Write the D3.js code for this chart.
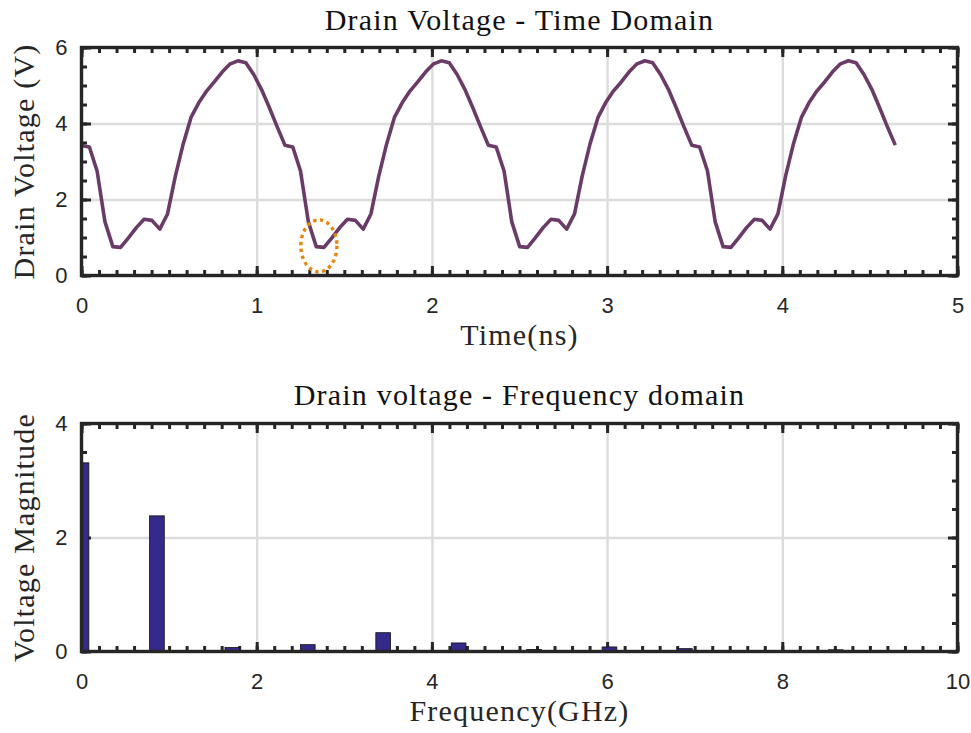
<!DOCTYPE html>
<html><head><meta charset="utf-8">
<script src="https://cdn.jsdelivr.net/npm/d3@7/dist/d3.min.js"></script>
<style>body{margin:0;background:#fff}svg{display:block}</style>
</head><body><svg id="chart" width="971" height="733"></svg>
<script>
// ---------- data ----------
const timeNs = [0,0.045,0.089,0.134,0.179,0.223,0.268,0.313,0.357,0.402,0.447,0.491,0.536,0.581,0.625,0.670,0.715,0.759,0.804,0.849,0.893,0.938,0.983,1.027,1.072,1.117,
1.161,1.206,1.250,1.295,1.340,1.384,1.429,1.474,1.518,1.563,1.608,1.652,1.697,1.742,1.786,1.831,1.876,1.920,1.965,2.010,2.054,2.099,2.144,2.188,2.233,2.278,
2.322,2.367,2.412,2.456,2.501,2.546,2.590,2.635,2.680,2.724,2.769,2.814,2.858,2.903,2.948,2.992,3.037,3.082,3.126,3.171,3.216,3.260,3.305,3.350,3.394,3.439,
3.483,3.528,3.573,3.617,3.662,3.707,3.751,3.796,3.841,3.885,3.930,3.975,4.019,4.064,4.109,4.153,4.198,4.243,4.287,4.332,4.377,4.421,4.466,4.511,4.555,4.600,4.645];
const drainV = [3.42,3.38,2.75,1.41,0.76,0.74,0.99,1.26,1.48,1.45,1.22,1.62,2.62,3.47,4.16,4.55,4.86,5.10,5.36,5.57,5.65,5.60,5.29,4.90,4.42,3.91,
3.43,3.38,2.75,1.41,0.76,0.74,0.99,1.26,1.48,1.45,1.22,1.62,2.62,3.47,4.16,4.55,4.86,5.10,5.36,5.57,5.65,5.60,5.29,4.90,4.42,3.91,
3.43,3.38,2.75,1.41,0.76,0.74,0.99,1.26,1.48,1.45,1.22,1.62,2.62,3.47,4.16,4.55,4.86,5.10,5.36,5.57,5.65,5.60,5.29,4.90,4.42,3.91,
3.43,3.38,2.75,1.41,0.76,0.74,0.99,1.26,1.48,1.45,1.22,1.62,2.62,3.47,4.16,4.55,4.86,5.10,5.36,5.57,5.65,5.60,5.29,4.90,4.42,3.91,
3.43];
const freqGHz = [0,0.861,1.722,2.583,3.444,4.305,5.166,6.027,6.888,7.749,8.610,9.471];
const magnitude = [3.31,2.38,0.07,0.12,0.33,0.15,0.035,0.08,0.05,0.01,0.03,0.01];
const barWidthGHz = 0.168;
const timeTicks = [0,1,2,3,4,5];
const voltTicks = [0,2,4,6];
const freqTicks = [0,2,4,6,8,10];
const magTicks = [0,2,4];
const markT = [1.355];      // highlighted minimum (ns)
const markV = [0.78];       // (V)
const markRT = [0.103];     // ellipse half-width (ns)
const markRV = [0.684];     // ellipse half-height (V)

// ---------- layout ----------
const svg = d3.select("#chart");
const L = 81.5, R = 957.5;
const serif = "'Liberation Serif','Times New Roman',serif";
const sans = "'Liberation Sans',Arial,Helvetica,sans-serif";
const frameColor = "#262626";

function panel(cfg) {
  const x = d3.scaleLinear().domain(cfg.xDomain).range([L, R]);
  const y = d3.scaleLinear().domain(cfg.yDomain).range([cfg.bottom, cfg.top]);
  const g = svg.append("g");
  const W = R - L, H = cfg.bottom - cfg.top;

  const gridX = g.append("g").attr("transform", `translate(0,${cfg.bottom})`)
    .call(d3.axisBottom(x).tickValues(cfg.xTicks.slice(1, -1)).tickSize(-H).tickFormat(""));
  const gridY = g.append("g").attr("transform", `translate(${L},0)`)
    .call(d3.axisLeft(y).tickValues(cfg.yTicks.slice(1, -1)).tickSize(-W).tickFormat(""));
  [gridX, gridY].forEach(a => {
    a.select(".domain").remove();
    a.selectAll("line").attr("stroke", "#dcdcdc").attr("stroke-width", 2.4);
  });

  const xm = x.ticks(cfg.xMinor), ym = y.ticks(cfg.yMinor);
  const axes = [
    g.append("g").attr("transform", `translate(0,${cfg.bottom})`).call(d3.axisBottom(x).tickValues(xm).tickSize(-5.5).tickFormat("")),
    g.append("g").attr("transform", `translate(0,${cfg.top})`).call(d3.axisTop(x).tickValues(xm).tickSize(-5.5).tickFormat("")),
    g.append("g").attr("transform", `translate(${L},0)`).call(d3.axisLeft(y).tickValues(ym).tickSize(-5.5).tickFormat("")),
    g.append("g").attr("transform", `translate(${R},0)`).call(d3.axisRight(y).tickValues(ym).tickSize(-5.5).tickFormat("")),
    g.append("g").attr("transform", `translate(0,${cfg.top})`).call(d3.axisTop(x).tickValues(cfg.xTicks).tickSize(-9.5).tickFormat("")),
    g.append("g").attr("transform", `translate(${R},0)`).call(d3.axisRight(y).tickValues(cfg.yTicks).tickSize(-9.5).tickFormat(""))
  ];
  const xAxis = g.append("g").attr("transform", `translate(0,${cfg.bottom})`)
    .call(d3.axisBottom(x).tickValues(cfg.xTicks).tickSize(-9.5).tickPadding(22).tickFormat(d3.format("d")));
  const yAxis = g.append("g").attr("transform", `translate(${L},0)`)
    .call(d3.axisLeft(y).tickValues(cfg.yTicks).tickSize(-9.5).tickPadding(14).tickFormat(d3.format("d")));
  axes.push(xAxis, yAxis);
  axes.forEach(a => {
    a.select(".domain").remove();
    a.selectAll("line").attr("stroke", frameColor).attr("stroke-width", 3);
    a.selectAll("text").attr("font-family", sans).attr("font-size", 22).attr("fill", "#262626");
  });

  g.append("text").attr("x", (L + R) / 2).attr("y", cfg.titleY).attr("text-anchor", "middle")
    .attr("font-family", serif).attr("font-size", 30).attr("letter-spacing", 1.2).attr("fill", "#111")
    .text(cfg.title);
  g.append("text").attr("x", (L + R) / 2).attr("y", cfg.xLabelY).attr("text-anchor", "middle")
    .attr("font-family", serif).attr("font-size", 30).attr("letter-spacing", 1.2).attr("fill", "#262626")
    .text(cfg.xLabel);
  g.append("text").attr("transform", `translate(34,${(cfg.top + cfg.bottom) / 2}) rotate(-90)`)
    .attr("text-anchor", "middle")
    .attr("font-family", serif).attr("font-size", 30).attr("letter-spacing", 1.2).attr("fill", "#262626")
    .text(cfg.yLabel);

  const clipId = "clip" + Math.round(cfg.top);
  svg.append("clipPath").attr("id", clipId).append("rect")
    .attr("x", L).attr("y", cfg.top).attr("width", W).attr("height", H);
  const plot = g.append("g").attr("clip-path", `url(#${clipId})`);
  return {x, y, g, plot, W, H, cfg};
}

function frame(p) {
  p.g.append("rect").attr("x", L).attr("y", p.cfg.top).attr("width", p.W).attr("height", p.H)
    .attr("fill", "none").attr("stroke", frameColor).attr("stroke-width", 3.4);
}

// ---- top panel: time domain ----
const topP = panel({
  xDomain: [0, 5], yDomain: [0, 6], top: 47.5, bottom: 275.5,
  xTicks: timeTicks, yTicks: voltTicks, xMinor: 50, yMinor: 12,
  title: "Drain Voltage - Time Domain", titleY: 30,
  xLabel: "Time(ns)", xLabelY: 345, yLabel: "Drain Voltage (V)"
});
const pts = timeNs.map((t, i) => [t, drainV[i]]);
topP.plot.append("path").datum(pts)
  .attr("fill", "none").attr("stroke", "#6a3b67").attr("stroke-width", 3.6)
  .attr("stroke-linejoin", "round")
  .attr("d", d3.line().x(d => topP.x(d[0])).y(d => topP.y(d[1])));
topP.g.selectAll("ellipse.mark").data(markT).join("ellipse").attr("class", "mark")
  .attr("cx", d => topP.x(d)).attr("cy", (d, i) => topP.y(markV[i]))
  .attr("rx", (d, i) => topP.x(markRT[i]) - topP.x(0))
  .attr("ry", (d, i) => topP.y(0) - topP.y(markRV[i]))
  .attr("fill", "none").attr("stroke", "#e5870f").attr("stroke-width", 3.4)
  .attr("stroke-dasharray", "3.4,3.6");
frame(topP);

// ---- bottom panel: frequency domain ----
const botP = panel({
  xDomain: [0, 10], yDomain: [0, 4], top: 423.5, bottom: 651.5,
  xTicks: freqTicks, yTicks: magTicks, xMinor: 50, yMinor: 8,
  title: "Drain voltage - Frequency domain", titleY: 405,
  xLabel: "Frequency(GHz)", xLabelY: 721, yLabel: "Voltage Magnitude"
});
botP.plot.selectAll("rect.bar").data(freqGHz).join("rect").attr("class", "bar")
  .attr("x", d => botP.x(d - barWidthGHz / 2))
  .attr("width", d => botP.x(barWidthGHz) - botP.x(0))
  .attr("y", (d, i) => botP.y(magnitude[i]))
  .attr("height", (d, i) => botP.y(0) - botP.y(magnitude[i]))
  .attr("fill", "#35298a").attr("stroke", "#111").attr("stroke-width", 0.8);
frame(botP);
</script></body></html>
